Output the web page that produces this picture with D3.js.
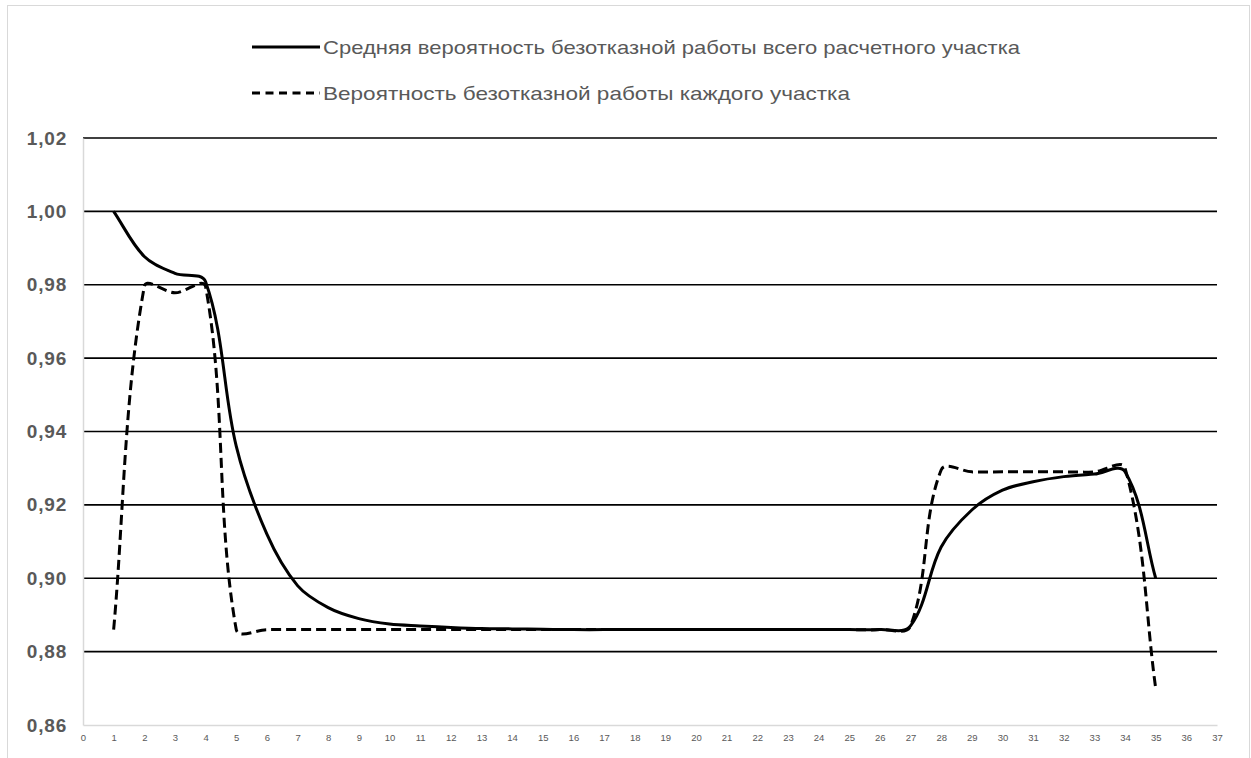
<!DOCTYPE html>
<html>
<head>
<meta charset="utf-8">
<script src="https://cdn.jsdelivr.net/npm/d3@7"></script>
<style>
  body { margin: 0; background: #fff; }
  svg { display: block; }
</style>
</head>
<body>
<svg id="chart" width="1251" height="758"></svg>
<script>
// section numbers 1..35
var sections = d3.range(1, 36);

// средняя вероятность безотказной работы всего расчетного участка
var meanValues = [1.000, 0.9877, 0.9831, 0.9808, 0.936, 0.912, 0.898, 0.892, 0.889, 0.8875,
    0.887, 0.8866, 0.8863, 0.8862, 0.8861, 0.886, 0.886, 0.886, 0.886, 0.886,
    0.886, 0.886, 0.886, 0.886, 0.886, 0.886, 0.887, 0.9085, 0.9186, 0.924,
    0.9263, 0.9277, 0.9284, 0.929, 0.900];

// вероятность безотказной работы каждого участка
var eachValues = [0.886, 0.9795, 0.9778, 0.9795, 0.886, 0.886, 0.886, 0.886, 0.886, 0.886,
    0.886, 0.886, 0.886, 0.886, 0.886, 0.886, 0.886, 0.886, 0.886, 0.886,
    0.886, 0.886, 0.886, 0.886, 0.886, 0.886, 0.887, 0.9295, 0.929, 0.929,
    0.929, 0.929, 0.929, 0.930, 0.870];

var yTicks = [0.86, 0.88, 0.90, 0.92, 0.94, 0.96, 0.98, 1.00, 1.02];
var xTicks = d3.range(0, 38);

var legendNames = [
    'Средняя вероятность безотказной работы всего расчетного участка',
    'Вероятность безотказной работы каждого участка'
];

var svg = d3.select('#chart');
var axisGray = '#d9d9d9', textGray = '#595959';

// smoothing like excel: bezier handles along neighbour direction, length = 1/3 of segment
function smoothCurve(context) {
    var pts;
    return {
        areaStart: function() {},
        areaEnd: function() {},
        lineStart: function() { pts = []; },
        point: function(x, y) { pts.push([+x, +y]); },
        lineEnd: function() {
            var n = pts.length;
            if (!n) return;
            var tan = pts.map(function(p, i) {
                var a = pts[Math.max(i - 1, 0)], b = pts[Math.min(i + 1, n - 1)];
                var dx = b[0] - a[0], dy = b[1] - a[1], len = Math.hypot(dx, dy) || 1;
                return [dx / len, dy / len];
            });
            context.moveTo(pts[0][0], pts[0][1]);
            for (var i = 0; i < n - 1; i++) {
                var p = pts[i], q = pts[i + 1];
                var h = Math.hypot(q[0] - p[0], q[1] - p[1]) / 3;
                context.bezierCurveTo(
                    p[0] + tan[i][0] * h, p[1] + tan[i][1] * h,
                    q[0] - tan[i + 1][0] * h, q[1] - tan[i + 1][1] * h,
                    q[0], q[1]);
            }
        }
    };
}

// chart area border
svg.append('rect')
    .attr('x', 7.5).attr('y', 5.5)
    .attr('width', 1242).attr('height', 760)
    .attr('fill', '#fff')
    .attr('stroke', axisGray).attr('stroke-width', 1);

var x = d3.scaleLinear().domain([0, 37]).range([83, 1217]);
var y = d3.scaleLinear().domain([0.86, 1.02]).range([725, 138]);

// gridlines
svg.append('g')
    .selectAll('line')
    .data(yTicks.filter(function(d) { return d > 0.87; }))
    .enter().append('line')
    .attr('x1', x(0)).attr('x2', x(37))
    .attr('y1', function(d) { return y(d); })
    .attr('y2', function(d) { return y(d); })
    .attr('stroke', '#000').attr('stroke-width', 1.6);

// y axis
var yAxis = d3.axisLeft(y)
    .tickValues(yTicks)
    .tickSize(0)
    .tickPadding(16)
    .tickFormat(function(d) { return d3.format('.2f')(d).replace('.', ','); });

var gy = svg.append('g')
    .attr('transform', 'translate(' + x(0) + ',0)')
    .call(yAxis);
gy.select('.domain').attr('stroke', axisGray).attr('stroke-width', 1.5);
gy.selectAll('text')
    .attr('fill', textGray)
    .style('font-family', '"Liberation Sans", Arial, sans-serif')
    .style('font-size', '19px')
    .style('font-weight', 'bold')
    .style('letter-spacing', '0.8px');

// x axis
var xAxis = d3.axisBottom(x)
    .tickValues(xTicks)
    .tickSize(0)
    .tickPadding(9)
    .tickFormat(d3.format('d'));

var gx = svg.append('g')
    .attr('transform', 'translate(0,' + y(0.86) + ')')
    .call(xAxis);
gx.select('.domain').attr('stroke', axisGray).attr('stroke-width', 1.5);
gx.selectAll('text')
    .attr('fill', textGray)
    .style('font-family', '"Liberation Sans", Arial, sans-serif')
    .style('font-size', '9.5px');

// lines
var line = d3.line()
    .x(function(d) { return x(d[0]); })
    .y(function(d) { return y(d[1]); })
    .curve(smoothCurve);

svg.append('path')
    .datum(sections.map(function(s, i) { return [s, eachValues[i]]; }))
    .attr('d', line)
    .attr('fill', 'none')
    .attr('stroke', '#000')
    .attr('stroke-width', 3)
    .attr('stroke-dasharray', '10,5');

svg.append('path')
    .datum(sections.map(function(s, i) { return [s, meanValues[i]]; }))
    .attr('d', line)
    .attr('fill', 'none')
    .attr('stroke', '#000')
    .attr('stroke-width', 3);

// legend
var legend = svg.append('g');
var legendRows = [
    { name: legendNames[0], dash: null, y: 47, len: 697 },
    { name: legendNames[1], dash: '8,5.5', y: 93, len: 527 }
];
legendRows.forEach(function(r) {
    legend.append('line')
        .attr('x1', 252).attr('x2', 320)
        .attr('y1', r.y).attr('y2', r.y)
        .attr('stroke', '#000').attr('stroke-width', 3)
        .attr('stroke-dasharray', r.dash);
    legend.append('text')
        .attr('x', 323).attr('y', r.y)
        .attr('dy', '0.35em')
        .attr('fill', textGray)
        .attr('textLength', r.len)
        .attr('lengthAdjust', 'spacingAndGlyphs')
        .style('font-family', '"Liberation Sans", Arial, sans-serif')
        .style('font-size', '19px')
        .text(r.name);
});
</script>
</body>
</html>
